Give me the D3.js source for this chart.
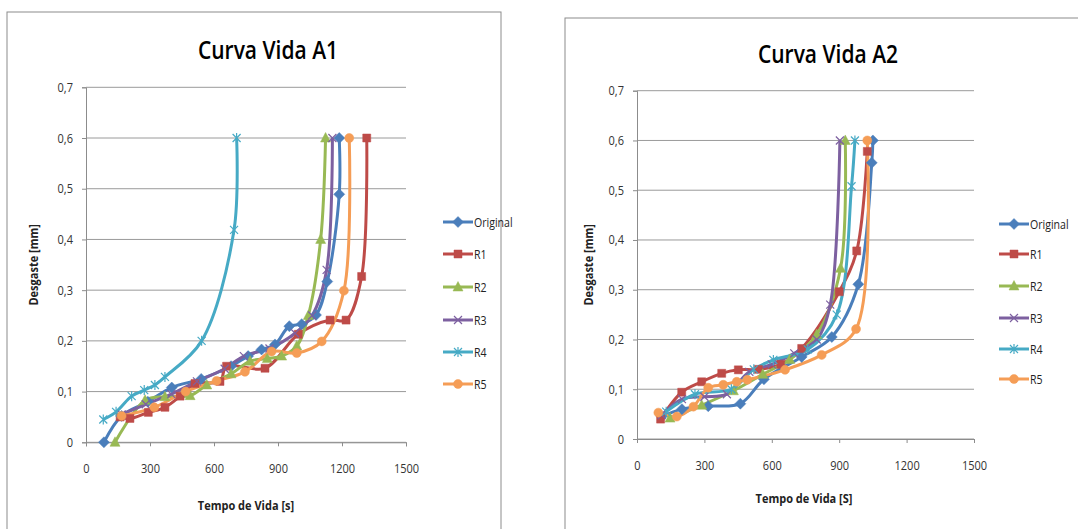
<!DOCTYPE html>
<html><head><meta charset="utf-8">
<script src="https://cdn.jsdelivr.net/npm/d3@7"></script>
<style>body{margin:0;background:#fff}svg{display:block}text{font-family:"Open Sans","Liberation Sans",sans-serif}</style>
</head><body>
<svg id="c" width="1078" height="529"></svg>
<script>
// ---------- data ----------
const seriesNames = ["Original","R1","R2","R3","R4","R5"];
const seriesColors = ["#4a7ebb","#be4b48","#98b954","#7d60a0","#46aac5","#f59d56"];
const markerTypes = ["diamond","square","triangle","x","star","circle"];
const xTicks = [0,300,600,900,1200,1500];
const yTicks = [0,0.1,0.2,0.3,0.4,0.5,0.6,0.7];
const yTickLabels = ["0","0,1","0,2","0,3","0,4","0,5","0,6","0,7"];

// Curva Vida A1  [tempo (s), desgaste (mm)]
const a1Original = [[84,0],[167,0.052],[290,0.08],[402,0.108],[540,0.125],[680,0.15],[760,0.17],[823,0.183],[886,0.193],[953,0.229],[1011,0.233],[1078,0.251],[1131,0.317],[1187,0.489],[1187,0.6]];
const a1R1 = [[160,0.05],[206,0.047],[292,0.059],[370,0.069],[441,0.091],[511,0.116],[628,0.12],[659,0.15],[839,0.146],[995,0.213],[1144,0.241],[1219,0.241],[1292,0.327],[1316,0.6]];
const a1R2 = [[136,0],[277,0.083],[370,0.09],[488,0.092],[566,0.113],[680,0.135],[769,0.16],[850,0.165],[917,0.17],[988,0.19],[1042,0.25],[1100,0.4],[1123,0.6]];
const a1R3 = [[167,0.055],[280,0.075],[400,0.095],[520,0.12],[650,0.145],[740,0.17],[860,0.185],[980,0.215],[1060,0.25],[1128,0.34],[1155,0.6]];
const a1R4 = [[81,0.045],[141,0.06],[214,0.091],[273,0.103],[323,0.113],[370,0.129],[542,0.2],[694,0.419],[706,0.6]];
const a1R5 = [[167,0.052],[320,0.069],[467,0.1],[612,0.121],[745,0.139],[870,0.179],[988,0.176],[1105,0.199],[1209,0.299],[1234,0.6]];

// Curva Vida A2
const a2Original = [[110,0.045],[200,0.06],[317,0.066],[460,0.071],[565,0.12],[733,0.165],[867,0.205],[985,0.311],[1045,0.555],[1050,0.6]];
const a2R1 = [[105,0.04],[199,0.094],[288,0.115],[377,0.132],[451,0.139],[540,0.14],[640,0.15],[733,0.182],[900,0.296],[978,0.378],[1025,0.578]];
const a2R2 = [[147,0.042],[288,0.068],[429,0.097],[560,0.13],[680,0.16],[800,0.21],[906,0.343],[927,0.6]];
const a2R3 = [[110,0.048],[200,0.08],[300,0.085],[400,0.09],[500,0.135],[600,0.15],[700,0.172],[800,0.2],[860,0.27],[903,0.6]];
const a2R4 = [[130,0.055],[258,0.09],[420,0.1],[520,0.14],[607,0.159],[760,0.18],[889,0.25],[955,0.508],[970,0.6]];
const a2R5 = [[95,0.053],[177,0.045],[251,0.065],[317,0.103],[384,0.109],[444,0.115],[491,0.119],[659,0.139],[822,0.169],[975,0.221],[1025,0.6]];

// ---------- drawing ----------
const svg = d3.select("#c");

// narrow the text (reference uses a condensed face)
function narrow(sel, f) {
  sel.each(function(){
    const w = this.getComputedTextLength();
    d3.select(this).attr("textLength", w*f).attr("lengthAdjust","spacingAndGlyphs");
  });
}

function markerPath(type, s) {
  const h = s/2;
  switch(type){
    case "diamond": return `M0,${-h-1.5}L${h+1.5},0L0,${h+1.5}L${-h-1.5},0Z`;
    case "square": return `M${-h},${-h}H${h}V${h}H${-h}Z`;
    case "triangle": return `M0,${-h-1.5}L${h+1},${h}H${-h-1}Z`;
    case "x": return `M${-h},${-h}L${h},${h}M${-h},${h}L${h},${-h}`;
    case "star": return `M${-h},${-h}L${h},${h}M${-h},${h}L${h},${-h}M0,${-h-1}V${h+1}`;
    case "circle": return d3.symbol(d3.symbolCircle, Math.PI*(h+0.5)*(h+0.5))();
  }
}
function drawMarker(g, type, color, cx, cy, s) {
  const p = g.append("path").attr("d", markerPath(type, s)).attr("transform", `translate(${cx},${cy})`);
  if (type === "x" || type === "star") p.attr("fill","none").attr("stroke", color).attr("stroke-width",1.2);
  else p.attr("fill", color).attr("stroke", color).attr("stroke-width",0.5);
}

function drawChart(cfg) {
  const g = svg.append("g");
  g.append("rect").attr("x",cfg.frame[0]).attr("y",cfg.frame[1]).attr("width",cfg.frame[2]).attr("height",cfg.frame[3])
    .attr("fill","#fff").attr("stroke","#8c8c8c").attr("stroke-width",1);
  const x = d3.scaleLinear().domain([0,1500]).range([cfg.left,cfg.right]);
  const y = d3.scaleLinear().domain([0,0.7]).range([cfg.bottom,cfg.top]);
  g.append("g").selectAll("line").data(yTicks).join("line")
    .attr("x1",cfg.left).attr("x2",cfg.right).attr("y1",d=>y(d)).attr("y2",d=>y(d))
    .attr("stroke","#9a9a9a").attr("stroke-width",1);
  const ya = g.append("g").attr("transform",`translate(${cfg.left},0)`)
    .call(d3.axisLeft(y).tickValues(yTicks).tickFormat((d,i)=>yTickLabels[i]).tickSize(4).tickPadding(9));
  const xa = g.append("g").attr("transform",`translate(0,${cfg.bottom})`)
    .call(d3.axisBottom(x).tickValues(xTicks).tickFormat(d=>String(d)).tickSize(4).tickPadding(cfg.xPad));
  [ya,xa].forEach(a=>{
    a.select(".domain").attr("stroke","#8c8c8c");
    a.selectAll(".tick line").attr("stroke","#8c8c8c");
    a.selectAll("text").attr("font-size",12.5).attr("fill","#333");
    narrow(a.selectAll("text"), 0.88);
  });
  narrow(g.append("text").attr("x",cfg.titleX).attr("y",cfg.titleY).attr("text-anchor","middle")
    .attr("font-size",25).attr("font-weight",600).attr("fill","#000").text(cfg.title), 0.84);
  narrow(g.append("text").attr("transform",`translate(${cfg.yTitleX},${(cfg.top+cfg.bottom)/2}) rotate(-90)`)
    .attr("text-anchor","middle").attr("font-size",12.5).attr("font-weight",700).attr("fill","#222").text("Desgaste [mm]"), 0.88);
  narrow(g.append("text").attr("x",cfg.xTitleX).attr("y",cfg.xTitleY).attr("text-anchor","middle")
    .attr("font-size",12.5).attr("font-weight",700).attr("fill","#222").text(cfg.xTitle), 0.88);
  const line = d3.line().x(d=>x(d[0])).y(d=>y(d[1])).curve(d3.curveCatmullRom.alpha(0.5));
  const plot = g.append("g");
  cfg.series.forEach((data,i)=>{
    plot.append("path").datum(data).attr("d",line).attr("fill","none")
      .attr("stroke",seriesColors[i]).attr("stroke-width",3).attr("stroke-linejoin","round");
  });
  cfg.series.forEach((data,i)=>{
    data.forEach(d=>drawMarker(plot, markerTypes[i], seriesColors[i], x(d[0]), y(d[1]), 8));
  });
  const lg = g.append("g");
  seriesNames.forEach((n,i)=>{
    const ly = cfg.legendY[i];
    lg.append("line").attr("x1",cfg.legendX).attr("x2",cfg.legendX+30).attr("y1",ly).attr("y2",ly)
      .attr("stroke",seriesColors[i]).attr("stroke-width",3);
    drawMarker(lg, markerTypes[i], seriesColors[i], cfg.legendX+15, ly, 8);
    narrow(lg.append("text").attr("x",cfg.legendX+31).attr("y",ly+4.5).attr("font-size",12).attr("fill","#222").text(n), 0.88);
  });
}

drawChart({
  frame:[7,12,494,530], left:86, right:406, top:87.3, bottom:442.3,
  title:"Curva Vida A1", titleX:268, titleY:59, yTitleX:38, xTitle:"Tempo de Vida [s]", xTitleX:246, xTitleY:510, xPad:18,
  legendX:443, legendY:[222,254,287,320,352,384],
  series:[a1Original,a1R1,a1R2,a1R3,a1R4,a1R5]
});
drawChart({
  frame:[565,18,530,530], left:637, right:974, top:90.7, bottom:439,
  title:"Curva Vida A2", titleX:828, titleY:63, yTitleX:593, xTitle:"Tempo de Vida [S]", xTitleX:804, xTitleY:503, xPad:18,
  legendX:999, legendY:[224,254,286,318,349,379],
  series:[a2Original,a2R1,a2R2,a2R3,a2R4,a2R5]
});
</script>
</body></html>
